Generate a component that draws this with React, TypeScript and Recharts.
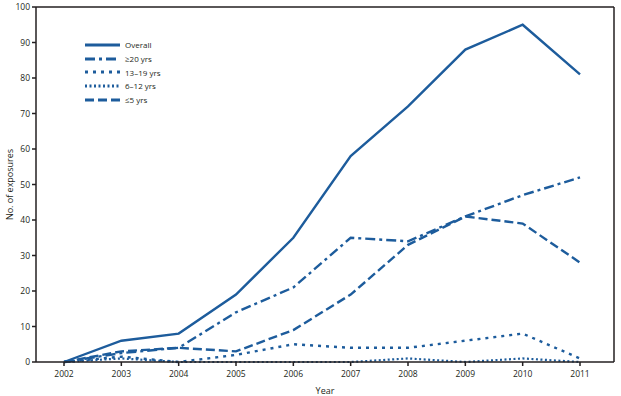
import React from "react";
import { LineChart, Line, XAxis, YAxis, Label } from "recharts";

const years = ["2002", "2003", "2004", "2005", "2006", "2007", "2008", "2009", "2010", "2011"];
const overall = [0, 6, 8, 19, 35, 58, 72, 88, 95, 81];
const age20plus = [0, 2.5, 4, 14, 21, 35, 34, 41, 47, 52];
const age13to19 = [0, 1.5, 0, 2, 5, 4, 4, 6, 8, 1];
const age6to12 = [0, 1, 0, 0, 0, 0, 1, 0, 1, 0];
const age5under = [0, 3, 4, 3, 9, 19, 33, 41, 39, 28];
const yTicks = [0, 10, 20, 30, 40, 50, 60, 70, 80, 90, 100];

const data = years.map((y, i) => ({
  year: y,
  overall: overall[i],
  a20: age20plus[i],
  a13: age13to19[i],
  a6: age6to12[i],
  a5: age5under[i],
}));

const BLUE = "#1d5c9c";
const AXIS = "#231f20";
const FONT = "'Open Sans', 'Liberation Sans', sans-serif";

const series = [
  { key: "overall", name: "Overall", dash: undefined as string | undefined, width: 2.4 },
  { key: "a20", name: "\u226520 yrs", dash: "10 4 3 4", width: 2.4 },
  { key: "a13", name: "13\u201319 yrs", dash: "3 5", width: 2.4 },
  { key: "a6", name: "6\u201312 yrs", dash: "2 2.5", width: 2.2 },
  { key: "a5", name: "\u22645 yrs", dash: "9 4", width: 2.4 },
];

const LegendBox = () => (
  <div
    style={{
      position: "absolute",
      left: 85,
      top: 38,
      fontFamily: FONT,
      fontSize: 8,
      color: "#231f20",
      lineHeight: "13.75px",
    }}
  >
    {series.map((s) => (
      <div key={s.key} style={{ display: "flex", alignItems: "center", height: 13.75 }}>
        <svg width={35} height={6} style={{ marginRight: 5 }}>
          <line x1={0} y1={3} x2={35} y2={3} stroke={BLUE} strokeWidth={3} strokeDasharray={s.dash} />
        </svg>
        <span>{s.name}</span>
      </div>
    ))}
  </div>
);

export default function App() {
  return (
    <div style={{ position: "absolute", left: 0, top: 0, width: 621, height: 396 }}>
      <LineChart width={621} height={396} data={data} margin={{ top: 6, right: 6, left: 0, bottom: 0 }}>
        <XAxis
          dataKey="year"
          xAxisId="bottom"
          height={34}
          padding={{ left: 28, right: 34 }}
          tickSize={4}
          tickLine={{ stroke: AXIS, strokeWidth: 1.5 }}
          axisLine={{ stroke: AXIS, strokeWidth: 1.5 }}
          tick={{ fontSize: 8.5, fill: AXIS, fontFamily: FONT }}
          tickMargin={5}
          interval={0}
        >
          <Label value="Year" position="insideBottom" offset={2} style={{ fontSize: 9, fill: AXIS, fontFamily: FONT }} />
        </XAxis>
        <XAxis
          dataKey="year"
          xAxisId="top"
          orientation="top"
          height={1}
          padding={{ left: 28, right: 34 }}
          tick={false}
          tickLine={false}
          axisLine={{ stroke: AXIS, strokeWidth: 1.5 }}
        />
        <YAxis
          yAxisId="left"
          width={36}
          domain={[0, 100]}
          ticks={yTicks}
          interval={0}
          tickSize={4}
          tickLine={{ stroke: AXIS, strokeWidth: 1.5 }}
          axisLine={{ stroke: AXIS, strokeWidth: 1.5 }}
          tick={{ fontSize: 8.5, fill: AXIS, fontFamily: FONT }}
          tickMargin={2}
        >
          <Label
            value="No. of exposures"
            angle={-90}
            position="insideLeft"
            offset={10}
            style={{ fontSize: 9, fill: AXIS, fontFamily: FONT, textAnchor: "middle" }}
          />
        </YAxis>
        <YAxis
          yAxisId="right"
          orientation="right"
          width={1}
          domain={[0, 100]}
          tick={false}
          tickLine={false}
          axisLine={{ stroke: AXIS, strokeWidth: 1.5 }}
        />
        {series.map((s) => (
          <Line
            key={s.key}
            xAxisId="bottom"
            yAxisId="left"
            type="linear"
            dataKey={s.key}
            name={s.name}
            stroke={BLUE}
            strokeWidth={s.width}
            strokeDasharray={s.dash}
            dot={false}
            activeDot={false}
            isAnimationActive={false}
          />
        ))}
      </LineChart>
      <LegendBox />
    </div>
  );
}
